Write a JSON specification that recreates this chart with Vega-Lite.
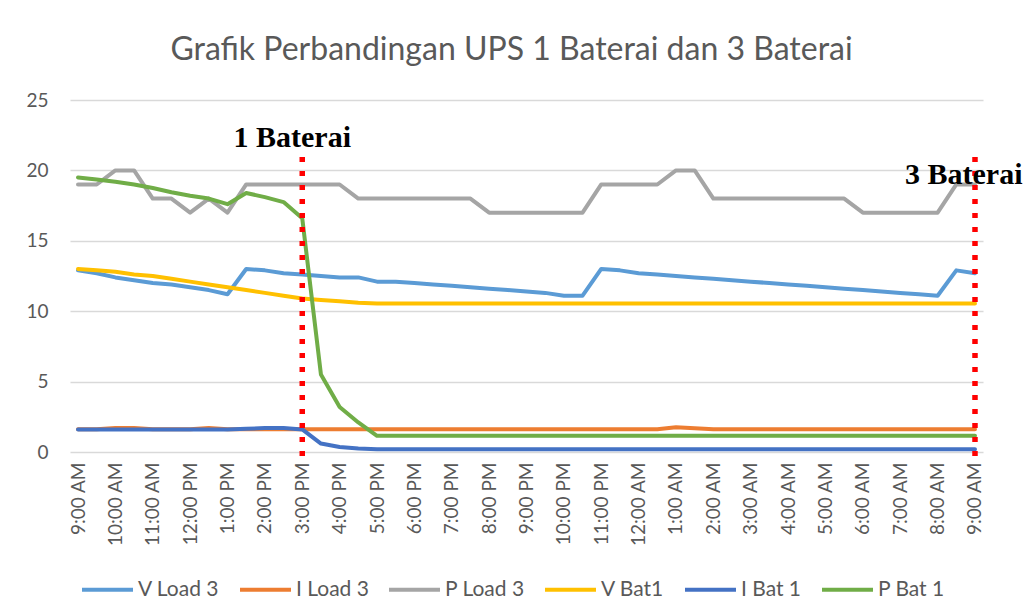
{
  "$schema": "https://vega.github.io/schema/vega-lite/v6.json",
  "width": 913,
  "height": 352,
  "autosize": {"type": "none"},
  "padding": {"left": 70, "top": 100, "right": 43, "bottom": 163},
  "background": "white",
  "config": {"view": {"stroke": null}},
  "title": {"text": "Grafik Perbandingan UPS 1 Baterai dan 3 Baterai", "font": "Lato", "fontSize": 32, "fontWeight": "normal", "color": "#595959", "anchor": "middle", "frame": "group", "baseline": "alphabetic", "offset": -1, "dx": -15},
  "datasets": {
    "series": [
      {"t":"2024-01-01T09:00","s":"V Load 3","v":12.9},{"t":"2024-01-01T09:30","s":"V Load 3","v":12.7},{"t":"2024-01-01T10:00","s":"V Load 3","v":12.4},{"t":"2024-01-01T10:30","s":"V Load 3","v":12.2},{"t":"2024-01-01T11:00","s":"V Load 3","v":12.0},{"t":"2024-01-01T11:30","s":"V Load 3","v":11.9},{"t":"2024-01-01T12:00","s":"V Load 3","v":11.7},{"t":"2024-01-01T12:30","s":"V Load 3","v":11.5},{"t":"2024-01-01T13:00","s":"V Load 3","v":11.2},{"t":"2024-01-01T13:30","s":"V Load 3","v":13.0},{"t":"2024-01-01T14:00","s":"V Load 3","v":12.9},{"t":"2024-01-01T14:30","s":"V Load 3","v":12.7},{"t":"2024-01-01T15:00","s":"V Load 3","v":12.6},{"t":"2024-01-01T15:30","s":"V Load 3","v":12.5},{"t":"2024-01-01T16:00","s":"V Load 3","v":12.4},{"t":"2024-01-01T16:30","s":"V Load 3","v":12.4},{"t":"2024-01-01T17:00","s":"V Load 3","v":12.1},{"t":"2024-01-01T17:30","s":"V Load 3","v":12.1},{"t":"2024-01-01T18:00","s":"V Load 3","v":12.0},{"t":"2024-01-01T18:30","s":"V Load 3","v":11.9},{"t":"2024-01-01T19:00","s":"V Load 3","v":11.8},{"t":"2024-01-01T19:30","s":"V Load 3","v":11.7},{"t":"2024-01-01T20:00","s":"V Load 3","v":11.6},{"t":"2024-01-01T20:30","s":"V Load 3","v":11.5},{"t":"2024-01-01T21:00","s":"V Load 3","v":11.4},{"t":"2024-01-01T21:30","s":"V Load 3","v":11.3},{"t":"2024-01-01T22:00","s":"V Load 3","v":11.1},{"t":"2024-01-01T22:30","s":"V Load 3","v":11.1},{"t":"2024-01-01T23:00","s":"V Load 3","v":13.0},{"t":"2024-01-01T23:30","s":"V Load 3","v":12.9},{"t":"2024-01-02T00:00","s":"V Load 3","v":12.7},{"t":"2024-01-02T00:30","s":"V Load 3","v":12.6},{"t":"2024-01-02T01:00","s":"V Load 3","v":12.5},{"t":"2024-01-02T01:30","s":"V Load 3","v":12.4},{"t":"2024-01-02T02:00","s":"V Load 3","v":12.3},{"t":"2024-01-02T02:30","s":"V Load 3","v":12.2},{"t":"2024-01-02T03:00","s":"V Load 3","v":12.1},{"t":"2024-01-02T03:30","s":"V Load 3","v":12.0},{"t":"2024-01-02T04:00","s":"V Load 3","v":11.9},{"t":"2024-01-02T04:30","s":"V Load 3","v":11.8},{"t":"2024-01-02T05:00","s":"V Load 3","v":11.7},{"t":"2024-01-02T05:30","s":"V Load 3","v":11.6},{"t":"2024-01-02T06:00","s":"V Load 3","v":11.5},{"t":"2024-01-02T06:30","s":"V Load 3","v":11.4},{"t":"2024-01-02T07:00","s":"V Load 3","v":11.3},{"t":"2024-01-02T07:30","s":"V Load 3","v":11.2},{"t":"2024-01-02T08:00","s":"V Load 3","v":11.1},{"t":"2024-01-02T08:30","s":"V Load 3","v":12.9},{"t":"2024-01-02T09:00","s":"V Load 3","v":12.7},

      {"t":"2024-01-01T09:00","s":"I Load 3","v":1.62},{"t":"2024-01-01T09:30","s":"I Load 3","v":1.62},{"t":"2024-01-01T10:00","s":"I Load 3","v":1.7},{"t":"2024-01-01T10:30","s":"I Load 3","v":1.7},{"t":"2024-01-01T11:00","s":"I Load 3","v":1.62},{"t":"2024-01-01T11:30","s":"I Load 3","v":1.62},{"t":"2024-01-01T12:00","s":"I Load 3","v":1.62},{"t":"2024-01-01T12:30","s":"I Load 3","v":1.7},{"t":"2024-01-01T13:00","s":"I Load 3","v":1.62},{"t":"2024-01-01T13:30","s":"I Load 3","v":1.62},{"t":"2024-01-01T14:00","s":"I Load 3","v":1.62},{"t":"2024-01-01T14:30","s":"I Load 3","v":1.62},{"t":"2024-01-01T15:00","s":"I Load 3","v":1.62},{"t":"2024-01-01T15:30","s":"I Load 3","v":1.62},{"t":"2024-01-01T16:00","s":"I Load 3","v":1.62},{"t":"2024-01-01T16:30","s":"I Load 3","v":1.62},{"t":"2024-01-01T17:00","s":"I Load 3","v":1.62},{"t":"2024-01-01T17:30","s":"I Load 3","v":1.62},{"t":"2024-01-01T18:00","s":"I Load 3","v":1.62},{"t":"2024-01-01T18:30","s":"I Load 3","v":1.62},{"t":"2024-01-01T19:00","s":"I Load 3","v":1.62},{"t":"2024-01-01T19:30","s":"I Load 3","v":1.62},{"t":"2024-01-01T20:00","s":"I Load 3","v":1.62},{"t":"2024-01-01T20:30","s":"I Load 3","v":1.62},{"t":"2024-01-01T21:00","s":"I Load 3","v":1.62},{"t":"2024-01-01T21:30","s":"I Load 3","v":1.62},{"t":"2024-01-01T22:00","s":"I Load 3","v":1.62},{"t":"2024-01-01T22:30","s":"I Load 3","v":1.62},{"t":"2024-01-01T23:00","s":"I Load 3","v":1.62},{"t":"2024-01-01T23:30","s":"I Load 3","v":1.62},{"t":"2024-01-02T00:00","s":"I Load 3","v":1.62},{"t":"2024-01-02T00:30","s":"I Load 3","v":1.62},{"t":"2024-01-02T01:00","s":"I Load 3","v":1.75},{"t":"2024-01-02T01:30","s":"I Load 3","v":1.68},{"t":"2024-01-02T02:00","s":"I Load 3","v":1.62},{"t":"2024-01-02T02:30","s":"I Load 3","v":1.62},{"t":"2024-01-02T03:00","s":"I Load 3","v":1.62},{"t":"2024-01-02T03:30","s":"I Load 3","v":1.62},{"t":"2024-01-02T04:00","s":"I Load 3","v":1.62},{"t":"2024-01-02T04:30","s":"I Load 3","v":1.62},{"t":"2024-01-02T05:00","s":"I Load 3","v":1.62},{"t":"2024-01-02T05:30","s":"I Load 3","v":1.62},{"t":"2024-01-02T06:00","s":"I Load 3","v":1.62},{"t":"2024-01-02T06:30","s":"I Load 3","v":1.62},{"t":"2024-01-02T07:00","s":"I Load 3","v":1.62},{"t":"2024-01-02T07:30","s":"I Load 3","v":1.62},{"t":"2024-01-02T08:00","s":"I Load 3","v":1.62},{"t":"2024-01-02T08:30","s":"I Load 3","v":1.62},{"t":"2024-01-02T09:00","s":"I Load 3","v":1.62},

      {"t":"2024-01-01T09:00","s":"P Load 3","v":19},{"t":"2024-01-01T09:30","s":"P Load 3","v":19},{"t":"2024-01-01T10:00","s":"P Load 3","v":20},{"t":"2024-01-01T10:30","s":"P Load 3","v":20},{"t":"2024-01-01T11:00","s":"P Load 3","v":18},{"t":"2024-01-01T11:30","s":"P Load 3","v":18},{"t":"2024-01-01T12:00","s":"P Load 3","v":17},{"t":"2024-01-01T12:30","s":"P Load 3","v":18},{"t":"2024-01-01T13:00","s":"P Load 3","v":17},{"t":"2024-01-01T13:30","s":"P Load 3","v":19},{"t":"2024-01-01T14:00","s":"P Load 3","v":19},{"t":"2024-01-01T14:30","s":"P Load 3","v":19},{"t":"2024-01-01T15:00","s":"P Load 3","v":19},{"t":"2024-01-01T15:30","s":"P Load 3","v":19},{"t":"2024-01-01T16:00","s":"P Load 3","v":19},{"t":"2024-01-01T16:30","s":"P Load 3","v":18},{"t":"2024-01-01T17:00","s":"P Load 3","v":18},{"t":"2024-01-01T17:30","s":"P Load 3","v":18},{"t":"2024-01-01T18:00","s":"P Load 3","v":18},{"t":"2024-01-01T18:30","s":"P Load 3","v":18},{"t":"2024-01-01T19:00","s":"P Load 3","v":18},{"t":"2024-01-01T19:30","s":"P Load 3","v":18},{"t":"2024-01-01T20:00","s":"P Load 3","v":17},{"t":"2024-01-01T20:30","s":"P Load 3","v":17},{"t":"2024-01-01T21:00","s":"P Load 3","v":17},{"t":"2024-01-01T21:30","s":"P Load 3","v":17},{"t":"2024-01-01T22:00","s":"P Load 3","v":17},{"t":"2024-01-01T22:30","s":"P Load 3","v":17},{"t":"2024-01-01T23:00","s":"P Load 3","v":19},{"t":"2024-01-01T23:30","s":"P Load 3","v":19},{"t":"2024-01-02T00:00","s":"P Load 3","v":19},{"t":"2024-01-02T00:30","s":"P Load 3","v":19},{"t":"2024-01-02T01:00","s":"P Load 3","v":20},{"t":"2024-01-02T01:30","s":"P Load 3","v":20},{"t":"2024-01-02T02:00","s":"P Load 3","v":18},{"t":"2024-01-02T02:30","s":"P Load 3","v":18},{"t":"2024-01-02T03:00","s":"P Load 3","v":18},{"t":"2024-01-02T03:30","s":"P Load 3","v":18},{"t":"2024-01-02T04:00","s":"P Load 3","v":18},{"t":"2024-01-02T04:30","s":"P Load 3","v":18},{"t":"2024-01-02T05:00","s":"P Load 3","v":18},{"t":"2024-01-02T05:30","s":"P Load 3","v":18},{"t":"2024-01-02T06:00","s":"P Load 3","v":17},{"t":"2024-01-02T06:30","s":"P Load 3","v":17},{"t":"2024-01-02T07:00","s":"P Load 3","v":17},{"t":"2024-01-02T07:30","s":"P Load 3","v":17},{"t":"2024-01-02T08:00","s":"P Load 3","v":17},{"t":"2024-01-02T08:30","s":"P Load 3","v":19},{"t":"2024-01-02T09:00","s":"P Load 3","v":19},

      {"t":"2024-01-01T09:00","s":"V Bat1","v":13.0},{"t":"2024-01-01T09:30","s":"V Bat1","v":12.9},{"t":"2024-01-01T10:00","s":"V Bat1","v":12.8},{"t":"2024-01-01T10:30","s":"V Bat1","v":12.6},{"t":"2024-01-01T11:00","s":"V Bat1","v":12.5},{"t":"2024-01-01T11:30","s":"V Bat1","v":12.3},{"t":"2024-01-01T12:00","s":"V Bat1","v":12.1},{"t":"2024-01-01T12:30","s":"V Bat1","v":11.9},{"t":"2024-01-01T13:00","s":"V Bat1","v":11.7},{"t":"2024-01-01T13:30","s":"V Bat1","v":11.5},{"t":"2024-01-01T14:00","s":"V Bat1","v":11.3},{"t":"2024-01-01T14:30","s":"V Bat1","v":11.1},{"t":"2024-01-01T15:00","s":"V Bat1","v":10.9},{"t":"2024-01-01T15:30","s":"V Bat1","v":10.8},{"t":"2024-01-01T16:00","s":"V Bat1","v":10.7},{"t":"2024-01-01T16:30","s":"V Bat1","v":10.6},{"t":"2024-01-01T17:00","s":"V Bat1","v":10.55},{"t":"2024-01-01T17:30","s":"V Bat1","v":10.55},{"t":"2024-01-01T18:00","s":"V Bat1","v":10.55},{"t":"2024-01-01T18:30","s":"V Bat1","v":10.55},{"t":"2024-01-01T19:00","s":"V Bat1","v":10.55},{"t":"2024-01-01T19:30","s":"V Bat1","v":10.55},{"t":"2024-01-01T20:00","s":"V Bat1","v":10.55},{"t":"2024-01-01T20:30","s":"V Bat1","v":10.55},{"t":"2024-01-01T21:00","s":"V Bat1","v":10.55},{"t":"2024-01-01T21:30","s":"V Bat1","v":10.55},{"t":"2024-01-01T22:00","s":"V Bat1","v":10.55},{"t":"2024-01-01T22:30","s":"V Bat1","v":10.55},{"t":"2024-01-01T23:00","s":"V Bat1","v":10.55},{"t":"2024-01-01T23:30","s":"V Bat1","v":10.55},{"t":"2024-01-02T00:00","s":"V Bat1","v":10.55},{"t":"2024-01-02T00:30","s":"V Bat1","v":10.55},{"t":"2024-01-02T01:00","s":"V Bat1","v":10.55},{"t":"2024-01-02T01:30","s":"V Bat1","v":10.55},{"t":"2024-01-02T02:00","s":"V Bat1","v":10.55},{"t":"2024-01-02T02:30","s":"V Bat1","v":10.55},{"t":"2024-01-02T03:00","s":"V Bat1","v":10.55},{"t":"2024-01-02T03:30","s":"V Bat1","v":10.55},{"t":"2024-01-02T04:00","s":"V Bat1","v":10.55},{"t":"2024-01-02T04:30","s":"V Bat1","v":10.55},{"t":"2024-01-02T05:00","s":"V Bat1","v":10.55},{"t":"2024-01-02T05:30","s":"V Bat1","v":10.55},{"t":"2024-01-02T06:00","s":"V Bat1","v":10.55},{"t":"2024-01-02T06:30","s":"V Bat1","v":10.55},{"t":"2024-01-02T07:00","s":"V Bat1","v":10.55},{"t":"2024-01-02T07:30","s":"V Bat1","v":10.55},{"t":"2024-01-02T08:00","s":"V Bat1","v":10.55},{"t":"2024-01-02T08:30","s":"V Bat1","v":10.55},{"t":"2024-01-02T09:00","s":"V Bat1","v":10.55},

      {"t":"2024-01-01T09:00","s":"I Bat 1","v":1.6},{"t":"2024-01-01T09:30","s":"I Bat 1","v":1.6},{"t":"2024-01-01T10:00","s":"I Bat 1","v":1.6},{"t":"2024-01-01T10:30","s":"I Bat 1","v":1.6},{"t":"2024-01-01T11:00","s":"I Bat 1","v":1.6},{"t":"2024-01-01T11:30","s":"I Bat 1","v":1.6},{"t":"2024-01-01T12:00","s":"I Bat 1","v":1.6},{"t":"2024-01-01T12:30","s":"I Bat 1","v":1.6},{"t":"2024-01-01T13:00","s":"I Bat 1","v":1.6},{"t":"2024-01-01T13:30","s":"I Bat 1","v":1.65},{"t":"2024-01-01T14:00","s":"I Bat 1","v":1.7},{"t":"2024-01-01T14:30","s":"I Bat 1","v":1.7},{"t":"2024-01-01T15:00","s":"I Bat 1","v":1.6},{"t":"2024-01-01T15:30","s":"I Bat 1","v":0.6},{"t":"2024-01-01T16:00","s":"I Bat 1","v":0.35},{"t":"2024-01-01T16:30","s":"I Bat 1","v":0.25},{"t":"2024-01-01T17:00","s":"I Bat 1","v":0.2},{"t":"2024-01-01T17:30","s":"I Bat 1","v":0.2},{"t":"2024-01-01T18:00","s":"I Bat 1","v":0.2},{"t":"2024-01-01T18:30","s":"I Bat 1","v":0.2},{"t":"2024-01-01T19:00","s":"I Bat 1","v":0.2},{"t":"2024-01-01T19:30","s":"I Bat 1","v":0.2},{"t":"2024-01-01T20:00","s":"I Bat 1","v":0.2},{"t":"2024-01-01T20:30","s":"I Bat 1","v":0.2},{"t":"2024-01-01T21:00","s":"I Bat 1","v":0.2},{"t":"2024-01-01T21:30","s":"I Bat 1","v":0.2},{"t":"2024-01-01T22:00","s":"I Bat 1","v":0.2},{"t":"2024-01-01T22:30","s":"I Bat 1","v":0.2},{"t":"2024-01-01T23:00","s":"I Bat 1","v":0.2},{"t":"2024-01-01T23:30","s":"I Bat 1","v":0.2},{"t":"2024-01-02T00:00","s":"I Bat 1","v":0.2},{"t":"2024-01-02T00:30","s":"I Bat 1","v":0.2},{"t":"2024-01-02T01:00","s":"I Bat 1","v":0.2},{"t":"2024-01-02T01:30","s":"I Bat 1","v":0.2},{"t":"2024-01-02T02:00","s":"I Bat 1","v":0.2},{"t":"2024-01-02T02:30","s":"I Bat 1","v":0.2},{"t":"2024-01-02T03:00","s":"I Bat 1","v":0.2},{"t":"2024-01-02T03:30","s":"I Bat 1","v":0.2},{"t":"2024-01-02T04:00","s":"I Bat 1","v":0.2},{"t":"2024-01-02T04:30","s":"I Bat 1","v":0.2},{"t":"2024-01-02T05:00","s":"I Bat 1","v":0.2},{"t":"2024-01-02T05:30","s":"I Bat 1","v":0.2},{"t":"2024-01-02T06:00","s":"I Bat 1","v":0.2},{"t":"2024-01-02T06:30","s":"I Bat 1","v":0.2},{"t":"2024-01-02T07:00","s":"I Bat 1","v":0.2},{"t":"2024-01-02T07:30","s":"I Bat 1","v":0.2},{"t":"2024-01-02T08:00","s":"I Bat 1","v":0.2},{"t":"2024-01-02T08:30","s":"I Bat 1","v":0.2},{"t":"2024-01-02T09:00","s":"I Bat 1","v":0.2},

      {"t":"2024-01-01T09:00","s":"P Bat 1","v":19.5},{"t":"2024-01-01T09:30","s":"P Bat 1","v":19.35},{"t":"2024-01-01T10:00","s":"P Bat 1","v":19.2},{"t":"2024-01-01T10:30","s":"P Bat 1","v":19.0},{"t":"2024-01-01T11:00","s":"P Bat 1","v":18.75},{"t":"2024-01-01T11:30","s":"P Bat 1","v":18.45},{"t":"2024-01-01T12:00","s":"P Bat 1","v":18.2},{"t":"2024-01-01T12:30","s":"P Bat 1","v":18.0},{"t":"2024-01-01T13:00","s":"P Bat 1","v":17.6},{"t":"2024-01-01T13:30","s":"P Bat 1","v":18.4},{"t":"2024-01-01T14:00","s":"P Bat 1","v":18.1},{"t":"2024-01-01T14:30","s":"P Bat 1","v":17.75},{"t":"2024-01-01T15:00","s":"P Bat 1","v":16.6},{"t":"2024-01-01T15:30","s":"P Bat 1","v":5.5},{"t":"2024-01-01T16:00","s":"P Bat 1","v":3.2},{"t":"2024-01-01T16:30","s":"P Bat 1","v":2.1},{"t":"2024-01-01T17:00","s":"P Bat 1","v":1.15},{"t":"2024-01-01T17:30","s":"P Bat 1","v":1.15},{"t":"2024-01-01T18:00","s":"P Bat 1","v":1.15},{"t":"2024-01-01T18:30","s":"P Bat 1","v":1.15},{"t":"2024-01-01T19:00","s":"P Bat 1","v":1.15},{"t":"2024-01-01T19:30","s":"P Bat 1","v":1.15},{"t":"2024-01-01T20:00","s":"P Bat 1","v":1.15},{"t":"2024-01-01T20:30","s":"P Bat 1","v":1.15},{"t":"2024-01-01T21:00","s":"P Bat 1","v":1.15},{"t":"2024-01-01T21:30","s":"P Bat 1","v":1.15},{"t":"2024-01-01T22:00","s":"P Bat 1","v":1.15},{"t":"2024-01-01T22:30","s":"P Bat 1","v":1.15},{"t":"2024-01-01T23:00","s":"P Bat 1","v":1.15},{"t":"2024-01-01T23:30","s":"P Bat 1","v":1.15},{"t":"2024-01-02T00:00","s":"P Bat 1","v":1.15},{"t":"2024-01-02T00:30","s":"P Bat 1","v":1.15},{"t":"2024-01-02T01:00","s":"P Bat 1","v":1.15},{"t":"2024-01-02T01:30","s":"P Bat 1","v":1.15},{"t":"2024-01-02T02:00","s":"P Bat 1","v":1.15},{"t":"2024-01-02T02:30","s":"P Bat 1","v":1.15},{"t":"2024-01-02T03:00","s":"P Bat 1","v":1.15},{"t":"2024-01-02T03:30","s":"P Bat 1","v":1.15},{"t":"2024-01-02T04:00","s":"P Bat 1","v":1.15},{"t":"2024-01-02T04:30","s":"P Bat 1","v":1.15},{"t":"2024-01-02T05:00","s":"P Bat 1","v":1.15},{"t":"2024-01-02T05:30","s":"P Bat 1","v":1.15},{"t":"2024-01-02T06:00","s":"P Bat 1","v":1.15},{"t":"2024-01-02T06:30","s":"P Bat 1","v":1.15},{"t":"2024-01-02T07:00","s":"P Bat 1","v":1.15},{"t":"2024-01-02T07:30","s":"P Bat 1","v":1.15},{"t":"2024-01-02T08:00","s":"P Bat 1","v":1.15},{"t":"2024-01-02T08:30","s":"P Bat 1","v":1.15},{"t":"2024-01-02T09:00","s":"P Bat 1","v":1.15}
    ],
    "markers": [
      {"t": "2024-01-01T15:00", "label": "1 Baterai"},
      {"t": "2024-01-02T09:00", "label": "3 Baterai"}
    ]
  },
  "layer": [
    {
      "data": {"name": "series"},
      "mark": {"type": "line", "strokeWidth": 4, "strokeJoin": "round", "strokeCap": "round"},
      "encoding": {
        "x": {
          "field": "t", "type": "temporal",
          "scale": {"domain": [{"year": 2024, "month": 1, "date": 1, "hours": 8, "minutes": 47, "seconds": 9}, {"year": 2024, "month": 1, "date": 2, "hours": 9, "minutes": 12, "seconds": 51}], "nice": false},
          "axis": {"title": null, "format": "%-I:%M %p", "tickCount": 24, "labelAngle": -90, "grid": false, "domain": false, "ticks": false, "labelPadding": 10, "labelOverlap": false, "labelFlush": false, "labelFont": "Lato", "labelFontSize": 19, "labelColor": "#595959"}
        },
        "y": {
          "field": "v", "type": "quantitative",
          "scale": {"domain": [0, 25], "nice": false},
          "axis": {"title": null, "values": [0, 5, 10, 15, 20, 25], "grid": true, "gridColor": "#D9D9D9", "gridWidth": 1.3, "domain": false, "ticks": false, "labelPadding": 22, "labelFont": "Lato", "labelFontSize": 19, "labelColor": "#595959"}
        },
        "color": {
          "field": "s", "type": "nominal",
          "scale": {"domain": ["V Load 3", "I Load 3", "P Load 3", "V Bat1", "I Bat 1", "P Bat 1"], "range": ["#5B9BD5", "#ED7D31", "#A5A5A5", "#FFC000", "#4472C4", "#70AD47"]},
          "legend": {"title": null, "orient": "none", "direction": "horizontal", "legendX": 10, "legendY": 462, "symbolType": "stroke", "symbolStrokeWidth": 4, "symbolSize": 2600, "labelOffset": 3, "columnPadding": 12, "labelFont": "Lato", "labelFontSize": 21, "labelColor": "#595959"}
        }
      }
    },
    {
      "data": {"name": "markers"},
      "mark": {"type": "rule", "color": "#FF0000", "strokeWidth": 5.5, "strokeDash": [5, 9]},
      "encoding": {
        "x": {"field": "t", "type": "temporal"},
        "y": {"datum": 20.95},
        "y2": {"datum": -0.57}
      }
    },
    {
      "data": {"name": "markers"},
      "transform": [{"filter": "datum.label === '1 Baterai'"}],
      "mark": {"type": "text", "font": "Liberation Serif", "fontWeight": "bold", "fontSize": 30, "align": "center", "baseline": "alphabetic", "dx": -10, "color": "#000000"},
      "encoding": {
        "x": {"field": "t", "type": "temporal"},
        "y": {"datum": 21.66},
        "text": {"field": "label"}
      }
    },
    {
      "data": {"name": "markers"},
      "transform": [{"filter": "datum.label === '3 Baterai'"}],
      "mark": {"type": "text", "font": "Liberation Serif", "fontWeight": "bold", "fontSize": 30, "align": "left", "baseline": "alphabetic", "dx": -70, "color": "#000000"},
      "encoding": {
        "x": {"field": "t", "type": "temporal"},
        "y": {"datum": 19.03},
        "text": {"field": "label"}
      }
    }
  ]
}
